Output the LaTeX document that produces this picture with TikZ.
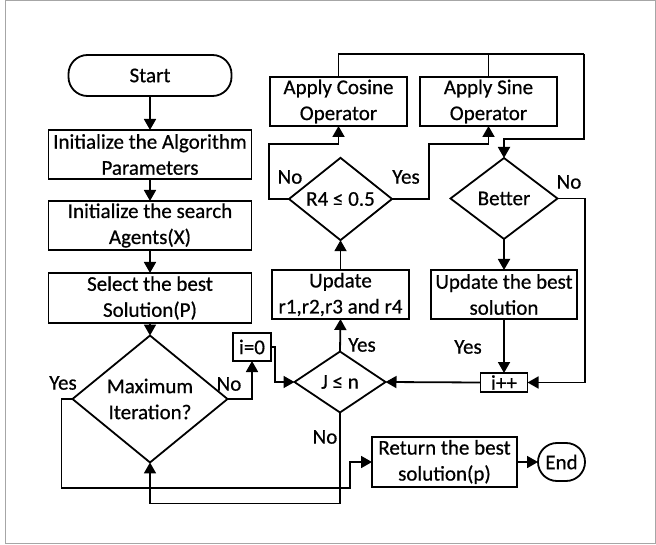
\documentclass[tikz,border=0pt]{standalone}
\usepackage{fontspec}
\setmainfont{Carlito}[FakeBold=0.6]
\usetikzlibrary{shapes.geometric,arrows.meta,calc}
\begin{document}
\begin{tikzpicture}[x=1pt,y=-1pt,
  every node/.style={font=\fontsize{21}{26}\selectfont, inner sep=0pt, outer sep=0pt},
  box/.style={draw, line width=1.8pt, align=center},
  term/.style={box, rounded corners=19pt},
  dec/.style={draw, line width=1.8pt, diamond, align=center},
  conn/.style={line width=1.8pt},
  arr/.style={conn, -{Triangle[length=11pt,width=12pt]}},
  lbl/.style={}
]
\useasboundingbox (0,0) rectangle (656,545);
\draw[gray!70, line width=1.2pt] (5.5,0.8) rectangle (655.5,543.5);

\node[term, minimum width=163pt, minimum height=41pt] (start) at (150,75.5) {Start};
\node[box, minimum width=203pt, minimum height=49pt] (init1) at (150,154.5) {Initialize the Algorithm\\Parameters};
\node[box, minimum width=203pt, minimum height=49pt] (init2) at (150,225.5) {Initialize the search\\Agents(X)};
\node[box, minimum width=203pt, minimum height=50pt] (sel) at (150,298) {Select the best\\Solution(P)};
\node[dec, minimum width=155pt, minimum height=108pt] (max) at (150,399) {Maximum\\Iteration?};
\node[box, minimum width=38pt, minimum height=28pt] (i0) at (252,347) {i=0};
\node[dec, minimum width=91pt, minimum height=61pt] (J) at (340,382) {J ≤ n};
\node[box, minimum width=137pt, minimum height=49pt] (upd) at (340.5,294.5) {Update\\r1,r2,r3 and r4};
\node[dec, minimum width=103pt, minimum height=72pt] (r4) at (340.5,199) {R4 ≤ 0.5};
\node[box, minimum width=137pt, minimum height=49pt] (cos) at (338.5,101.5) {Apply Cosine\\Operator};
\node[box, minimum width=137pt, minimum height=49pt] (sin) at (488.5,101.5) {Apply Sine\\Operator};
\node[dec, minimum width=107pt, minimum height=81pt] (better) at (504,198.5) {Better};
\node[box, minimum width=146pt, minimum height=49pt] (updbest) at (504,294.5) {Update the best\\solution};
\node[box, minimum width=47pt, minimum height=19pt] (ipp) at (504,382.5) {i++};
\node[box, minimum width=145pt, minimum height=50pt] (ret) at (444.5,462) {Return the best\\solution(p)};
\node[term, minimum width=47pt, minimum height=38pt] (end) at (561.5,462) {End};

\coordinate (tr) at (584,54);
\coordinate (br) at (585,198.5);

\draw[arr] (start) -- (init1);
\draw[arr] (init1) -- (init2);
\draw[arr] (init2) -- (sel);
\draw[arr] (sel) -- (max);
\draw[arr] (max.east) -| (i0.south);
\draw[arr] (i0.east) -- ++(4,0) |- (J.west);
\draw[arr] (J.north) -- (upd.south);
\draw[arr] (upd.north) -- (r4.south);
\draw[arr] (r4.west) -- ++(-20,0) |- ($(cos.south)+(0,18)$) -- (cos.south);
\draw[arr] (r4.east) -- ++(37,0) |- ($(sin.south)+(0,18)$) -- (sin.south);
\draw[conn] (cos.north) |- (tr);
\draw[conn] (sin.north) -- (sin.north |- tr);
\draw[arr] (tr) |- ($(better.north)+(0,-19)$) -- (better.north);
\draw[arr] (better.east) -- (br) |- (ipp.east);
\draw[arr] (better.south) -- (updbest.north);
\draw[arr] (updbest.south) -- (ipp.north);
\draw[arr] (ipp.west) -- (J.east);
\draw[arr] (J.south) -- ($(J.south)+(0,91)$) -| (max.south);
\draw[arr] (max.west) -- ++(-11,0) |- (350,488) |- (ret.west);
\draw[arr] (ret.east) -- (end.west);

\node[lbl] at (63,383) {Yes};
\node[lbl] at (229,384) {No};
\node[lbl] at (290,177) {No};
\node[lbl] at (406,177) {Yes};
\node[lbl] at (569,182) {No};
\node[lbl] at (362,345) {Yes};
\node[lbl] at (468,347) {Yes};
\node[lbl] at (325,437) {No};
\end{tikzpicture}
\end{document}
